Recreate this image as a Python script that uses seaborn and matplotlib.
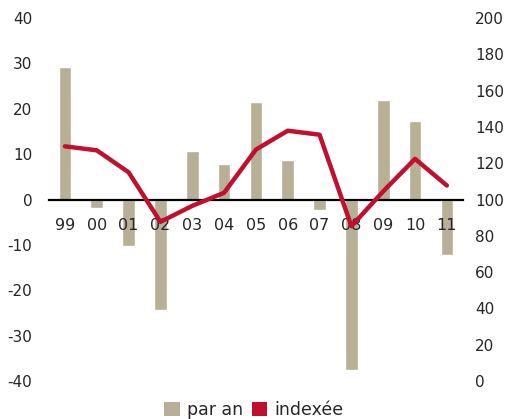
import numpy as np
import pandas as pd
import seaborn as sns
import matplotlib.pyplot as plt
from matplotlib.patches import Patch
from matplotlib.ticker import FixedLocator

sns.set_style('white')
plt.rcParams['font.family'] = ['DejaVu Sans']

### Data
years = ['99', '00', '01', '02', '03', '04', '05', '06', '07', '08', '09', '10', '11']
par_an = [29.3, -1.9, -10.2, -24.4, 10.8, 7.9, 21.6, 8.8, -2.4, -37.6, 22.0, 17.2, -12.3]
indexee = [129.3, 127.1, 115.0, 87.7, 96.5, 103.7, 127.5, 137.9, 135.7, 85.3, 104.5, 122.4, 107.7]

left_ticks = [-40, -30, -20, -10, 0, 10, 20, 30, 40]
right_ticks = [0, 20, 40, 60, 80, 100, 120, 140, 160, 180, 200]

bar_color = '#b8b096'
line_color = '#c0102e'
fontsize = 11

df = pd.DataFrame({'year': years, 'par_an': par_an, 'indexee': indexee,
                   'pos': np.arange(len(years))})

### Canvas
fig = plt.figure(figsize=(5.08, 4.19), dpi=100)
ax = fig.add_axes([0.0965, 0.0907, 0.8145, 0.8663])

sns.barplot(data=df, x='year', y='par_an', order=years, color=bar_color,
            width=0.4, saturation=1, ax=ax)
ax.set_axisbelow(False)
ax.set_xlim(-0.5, len(years) - 0.5)
ax.set_ylim(-40, 40)
ax.set_yticks(left_ticks)
ax.set_yticklabels([str(v) for v in left_ticks], fontsize=fontsize)
ax.set_xlabel('')
ax.set_ylabel('')

### zero line with ticks between categories
for m in ['top', 'left', 'right']:
    ax.spines[m].set_visible(False)
ax.spines['bottom'].set_position(('data', 0))
ax.spines['bottom'].set_linewidth(1.6)
ax.spines['bottom'].set_color('black')
ax.xaxis.set_minor_locator(FixedLocator(np.arange(-0.5, len(years), 1.0)))
ax.tick_params(axis='x', which='minor', length=4, width=1.6, color='black', direction='out')
ax.tick_params(axis='x', which='major', length=0, pad=13, labelsize=fontsize + 0.5)
ax.tick_params(axis='y', length=0, pad=12)

### Indexed line on right axis
ax2 = ax.twinx()
sns.lineplot(data=df, x='pos', y='indexee', color=line_color, linewidth=3.2,
             ax=ax2, zorder=5)
ax2.set_ylim(0, 200)
ax2.set_yticks(right_ticks)
ax2.set_yticklabels([str(v) for v in right_ticks], fontsize=fontsize)
ax2.tick_params(axis='y', length=0, pad=9)
ax2.set_ylabel('')
ax2.set_xlabel('')
for m in ['top', 'left', 'right', 'bottom']:
    ax2.spines[m].set_visible(False)
ax2.set_xlim(-0.5, len(years) - 0.5)

### Legend
handles = [Patch(facecolor=bar_color, edgecolor='none', label='par an'),
           Patch(facecolor=line_color, edgecolor='none', label='indexée')]
fig.legend(handles=handles, loc='center', bbox_to_anchor=(0.5, 0.022), ncol=2,
           frameon=False, fontsize=12.5, handlelength=0.9, handleheight=0.9,
           handletextpad=0.4, columnspacing=0.5)

fig.savefig('out.png', dpi=100)
